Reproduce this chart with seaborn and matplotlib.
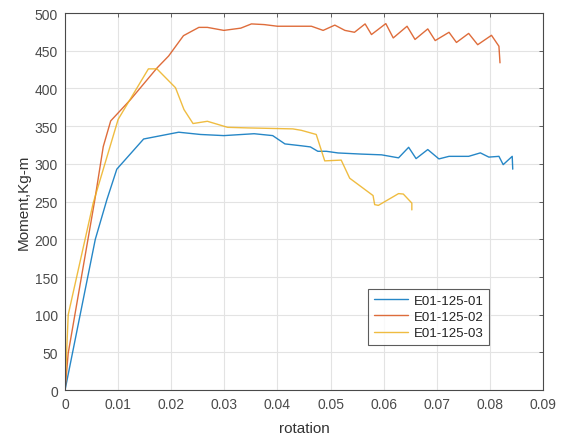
import numpy as np
import pandas as pd
import matplotlib
matplotlib.use("Agg")
import matplotlib.pyplot as plt
import seaborn as sns

rot1 = [0, 0.0057, 0.0079, 0.00975, 0.0148, 0.0214, 0.0255, 0.0299, 0.0356, 0.0391, 0.0414, 0.0445,
        0.0462, 0.0476, 0.0492, 0.0514, 0.0558, 0.0596, 0.0628, 0.0647, 0.0661, 0.0683, 0.0704, 0.0723,
        0.076, 0.0782, 0.0798, 0.0817, 0.0825, 0.0842, 0.0843]
mom1 = [0, 200, 253, 293, 333, 342, 339, 337.5, 340, 337.5, 326.5, 324,
        322.5, 316.7, 316.7, 314.5, 313, 312, 308, 322, 307, 319, 306.6, 310,
        310, 314.6, 309, 310, 299, 310, 293]

rot2 = [0, 0.0006, 0.0056, 0.0072, 0.0086, 0.0123, 0.0173, 0.0195, 0.0223, 0.0252, 0.0268, 0.0299,
        0.0331, 0.0351, 0.0375, 0.04, 0.0445, 0.0464, 0.0486, 0.0508, 0.0527, 0.0545, 0.0565, 0.0577,
        0.0604, 0.0618, 0.0644, 0.0659, 0.0683, 0.0697, 0.0723, 0.0737, 0.076, 0.0777, 0.0803, 0.0817, 0.0819]
mom2 = [0, 49, 252, 323, 357, 385, 427, 443, 470, 481, 481, 477,
        480, 485.6, 484.7, 482.5, 482.5, 482.5, 477, 484, 477, 474.5, 485.6, 471.5,
        486, 467, 482.5, 465, 479, 463.5, 474.5, 461, 473, 458, 470.5, 456, 434]

rot3 = [0, 0.0006, 0.0053, 0.01, 0.0157, 0.0173, 0.0208, 0.0224, 0.0241, 0.0268, 0.0306, 0.0344,
        0.0429, 0.0445, 0.0473, 0.0489, 0.052, 0.0536, 0.058, 0.0583, 0.059, 0.0628, 0.0637, 0.0653, 0.0653]
mom3 = [0, 100, 248, 359, 426, 426, 401, 372, 353.5, 356.5, 348.5, 347.7,
        346.4, 344.5, 339, 304, 305, 281, 258, 246, 245, 260.6, 260, 248, 239]

names = ["E01-125-01", "E01-125-02", "E01-125-03"]
xticks = [0, 0.01, 0.02, 0.03, 0.04, 0.05, 0.06, 0.07, 0.08, 0.09]
yticks = list(range(0, 501, 50))

frames = []
for n, r, m in zip(names, [rot1, rot2, rot3], [mom1, mom2, mom3]):
    frames.append(pd.DataFrame({"rotation": r, "moment": m, "series": n}))
df = pd.concat(frames, ignore_index=True)

sns.set_style("white")
plt.rcParams["font.family"] = ["Liberation Sans", "DejaVu Sans"]

fig = plt.figure(figsize=(5.63, 4.39), dpi=100)
ax = fig.add_axes([0.1155, 0.109, 0.849, 0.859])
palette = ["#0072BD", "#D95319", "#EDB120"]
sns.lineplot(data=df, x="rotation", y="moment", hue="series", palette=palette,
             sort=False, estimator=None, units="series", linewidth=1.0, alpha=0.85, ax=ax)

txt = "#4a4a4a"
ax.set_xlim(0, 0.09)
ax.set_ylim(0, 500)
ax.set_xticks(xticks)
ax.set_xticklabels(["0"] + [f"{t:g}" for t in xticks[1:]])
ax.set_yticks(yticks)
ax.grid(True, color="#e3e3e3", linewidth=0.8)
ax.set_axisbelow(True)
for s in ax.spines.values():
    s.set_color("#4a4a4a")
    s.set_linewidth(0.8)
ax.tick_params(direction="in", length=3, labelsize=10, colors=txt, top=True, right=True,
               labeltop=False, labelright=False, width=0.6, pad=5)
ax.set_xlabel("rotation", fontsize=11, color="#333333", labelpad=7)
ax.set_ylabel("Moment,Kg-m", fontsize=11, color="#333333", labelpad=3)

leg = ax.legend(loc="upper left", bbox_to_anchor=(0.634, 0.269), borderaxespad=0,
                fontsize=9.5, frameon=True,
                fancybox=False, edgecolor="#333333", handlelength=2.6, borderpad=0.45,
                labelspacing=0.3, handletextpad=0.4)
leg.get_frame().set_linewidth(0.8)
for t in leg.get_texts():
    t.set_color("#222222")
for h in leg.get_lines():
    h.set_linewidth(1.0)

fig.savefig("out.png", dpi=100)
